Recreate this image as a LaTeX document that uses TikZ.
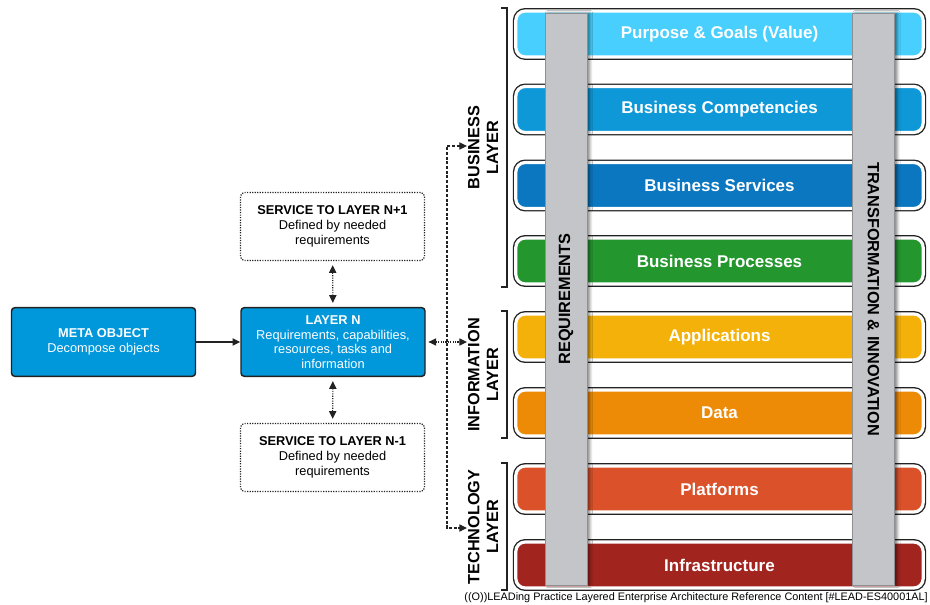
\documentclass[tikz,border=0pt]{standalone}
\usepackage{fontspec}
\setmainfont{Liberation Sans}
\usetikzlibrary{arrows.meta,shadows.blur}
\definecolor{purposeBlue}{HTML}{48CFFD}
\definecolor{competencyBlue}{HTML}{0E98D8}
\definecolor{serviceBlue}{HTML}{0A77C0}
\definecolor{processGreen}{HTML}{24962E}
\definecolor{applicationYellow}{HTML}{F4B10A}
\definecolor{dataOrange}{HTML}{EE8B06}
\definecolor{platformRed}{HTML}{DA512A}
\definecolor{infraRed}{HTML}{A1241F}
\definecolor{metaBlue}{HTML}{0097DB}
\definecolor{pillarGray}{HTML}{C4C5C9}
\definecolor{pillarEdge}{HTML}{8E8F93}
\definecolor{lineDark}{HTML}{222222}

\begin{document}
\begin{tikzpicture}[x=0.75pt,y=-0.75pt,>={Triangle[length=5.8pt,width=5.4pt]}]
\tikzstyle{layerbar} = [rectangle, rounded corners=7pt, inner sep=0pt,
  minimum width=305.5pt, minimum height=34.5pt, text=white,
  font=\fontsize{12.75}{15}\selectfont\bfseries,
  preaction={draw=lineDark, line width=4.4pt}, draw=white, line width=2.4pt]
\tikzstyle{pillar} = [rectangle, fill=pillarGray, draw=pillarEdge, line width=0.6pt,
  inner sep=0pt, minimum width=31.5pt, minimum height=429pt,
  font=\fontsize{12.2}{14}\selectfont\bfseries,
  blur shadow={shadow xshift=2.2pt, shadow yshift=0pt, shadow opacity=45,
    shadow blur radius=2pt}]
\tikzstyle{layerlabel} = [inner sep=0pt, font=\fontsize{12.2}{14}\selectfont\bfseries]
\tikzstyle{bluebox} = [rectangle, rounded corners=2.5pt, fill=metaBlue, draw=lineDark,
  line width=1.1pt, minimum width=138pt, minimum height=51.5pt, inner sep=0pt,
  text=white, align=center, font=\fontsize{9.6}{11}\selectfont]
\tikzstyle{servicebox} = [rectangle, rounded corners=3pt, fill=white, draw=lineDark,
  densely dotted, line width=0.9pt, minimum width=138pt, minimum height=51pt,
  inner sep=0pt, align=center, font=\fontsize{9.6}{11}\selectfont]
\tikzstyle{dotlink} = [draw=lineDark, densely dotted, line width=0.8pt]
\tikzstyle{dashlink} = [draw=lineDark, dash pattern=on 2.2pt off 1.3pt, line width=0.8pt]
\tikzstyle{bracket} = [draw=lineDark, line width=0.9pt]

\useasboundingbox (0,0) rectangle (930,605);

% left side: object decomposition
\node(metaObject) [bluebox] at (103.5,342) {\textbf{META OBJECT}\\Decompose objects};
\node(layerN) [bluebox] at (333,342) {\textbf{LAYER N}\\Requirements, capabilities,\\
  resources, tasks and\\information};
\node(serviceUp) [servicebox] at (332.5,226.5) {\textbf{SERVICE TO LAYER N+1}\\
  Defined by needed\\requirements};
\node(serviceDown) [servicebox] at (332.5,457.5) {\textbf{SERVICE TO LAYER N-1}\\
  Defined by needed\\requirements};

% right side: the layers
\node(purpose) [layerbar, fill=purposeBlue] at (719.5,34) {Purpose \& Goals (Value)};
\node(competencies) [layerbar, fill=competencyBlue] at (719.5,109.5) {Business Competencies};
\node(services) [layerbar, fill=serviceBlue] at (719.5,185.5) {Business Services};
\node(processes) [layerbar, fill=processGreen] at (719.5,261) {Business Processes};
\node(applications) [layerbar, fill=applicationYellow] at (719.5,337) {Applications};
\node(data) [layerbar, fill=dataOrange] at (719.5,413) {Data};
\node(platforms) [layerbar, fill=platformRed] at (719.5,489) {Platforms};
\node(infrastructure) [layerbar, fill=infraRed] at (719.5,565) {Infrastructure};

\node(requirements) [pillar] at (566,299) {\rotatebox{90}{REQUIREMENTS}};
\node(transformation) [pillar] at (873.5,299) {\rotatebox{-90}{TRANSFORMATION \& INNOVATION}};

% layer groups
\draw[bracket] (501,8) -- (507,8) -- (507,287) -- (501,287);
\draw[bracket] (501,311) -- (507,311) -- (507,438) -- (501,438);
\draw[bracket] (501,463) -- (507,463) -- (507,590) -- (501,590);
\node(busLabel) [layerlabel] at (485,147.5)
  {\rotatebox{90}{\begin{tabular}{@{}c@{}}BUSINESS\\LAYER\end{tabular}}};
\node(infoLabel) [layerlabel] at (485,375)
  {\rotatebox{90}{\begin{tabular}{@{}c@{}}INFORMATION\\LAYER\end{tabular}}};
\node(techLabel) [layerlabel] at (485,527)
  {\rotatebox{90}{\begin{tabular}{@{}c@{}}TECHNOLOGY\\LAYER\end{tabular}}};
\coordinate(busIn) at (467,146);
\coordinate(infoIn) at (467,342);
\coordinate(techIn) at (467,528);
\coordinate(spine) at (447,342);

\node(footer) [anchor=east, inner sep=0pt, font=\fontsize{8.15}{9}\selectfont] at (928,598)
  {((O))LEADing Practice Layered Enterprise Architecture Reference Content [\#LEAD-ES40001AL]};

% connectors
\draw[->, draw=lineDark, line width=1pt] (metaObject) -- (layerN);
\draw[<->, dotlink, shorten <=3pt, shorten >=3pt] (layerN) -- (serviceUp);
\draw[<->, dotlink, shorten <=3pt, shorten >=3pt] (layerN) -- (serviceDown);
\draw[<->, dotlink, shorten <=2pt] (layerN.east) -- (infoIn);
\draw[<->, dashlink] (busIn) -| (spine) |- (techIn);
\end{tikzpicture}
\end{document}
